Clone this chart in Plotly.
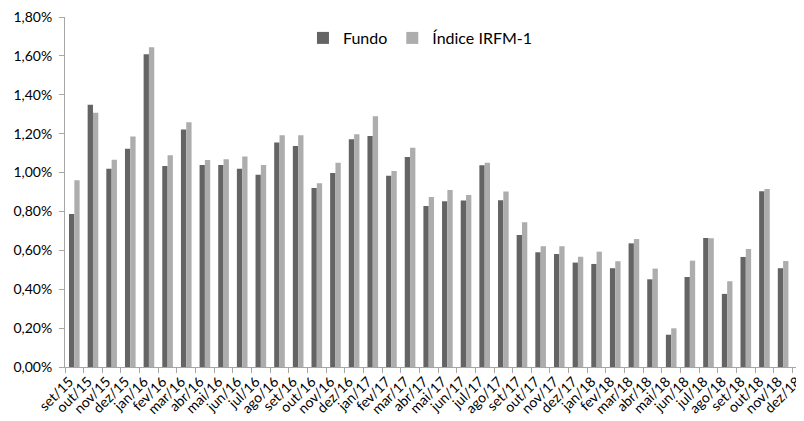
import plotly.graph_objects as go

months = ["set/15", "out/15", "nov/15", "dez/15",
          "jan/16", "fev/16", "mar/16", "abr/16", "mai/16", "jun/16",
          "jul/16", "ago/16", "set/16", "out/16", "nov/16", "dez/16",
          "jan/17", "fev/17", "mar/17", "abr/17", "mai/17", "jun/17",
          "jul/17", "ago/17", "set/17", "out/17", "nov/17", "dez/17",
          "jan/18", "fev/18", "mar/18", "abr/18", "mai/18", "jun/18",
          "jul/18", "ago/18", "set/18", "out/18", "nov/18", "dez/18"]

fundo = [0.787, 1.349, 1.020, 1.123,
         1.608, 1.034, 1.221, 1.039, 1.039, 1.019,
         0.989, 1.154, 1.137, 0.921, 0.998, 1.171,
         1.188, 0.984, 1.080, 0.828, 0.852, 0.856,
         1.037, 0.857, 0.679, 0.590, 0.581, 0.537,
         0.530, 0.508, 0.636, 0.451, 0.166, 0.463,
         0.664, 0.376, 0.566, 0.904, 0.508, 0.514]

irfm1 = [0.960, 1.307, 1.066, 1.185,
         1.644, 1.089, 1.259, 1.065, 1.068, 1.082,
         1.039, 1.192, 1.192, 0.945, 1.051, 1.197,
         1.290, 1.008, 1.127, 0.874, 0.910, 0.885,
         1.051, 0.903, 0.744, 0.621, 0.621, 0.567,
         0.593, 0.544, 0.658, 0.506, 0.199, 0.547,
         0.662, 0.441, 0.607, 0.916, 0.545, 0.559]

y_ticks = [0.0, 0.2, 0.4, 0.6, 0.8, 1.0, 1.2, 1.4, 1.6, 1.8]
y_tick_text = [f"{v:.2f}%".replace(".", ",") for v in y_ticks]

font = "Lato, 'Open Sans', sans-serif"

fig = go.Figure()
fig.add_trace(go.Bar(name="Fundo", x=months, y=fundo,
                     marker=dict(color="#646464", line=dict(width=0))))
fig.add_trace(go.Bar(name="Índice IRFM-1", x=months, y=irfm1,
                     marker=dict(color="#ADADAD", line=dict(width=0))))

# page body has an 8px margin, so the figure is sized/offset to compensate
fig.update_layout(
    width=796, height=413,
    margin=dict(l=57, r=0, t=9, b=54, autoexpand=False),
    paper_bgcolor="white", plot_bgcolor="white",
    barmode="group", bargap=0.43, bargroupgap=0,
    font=dict(family=font, size=14, color="#000000"),
    showlegend=True,
    legend=dict(orientation="h", x=0.322, y=0.94, xanchor="left", yanchor="middle",
                bgcolor="rgba(0,0,0,0)", font=dict(size=16),
                traceorder="normal"),
    xaxis=dict(type="category", range=[-0.5, 39.12], automargin=False,
               showline=True, linecolor="#A6A6A6", linewidth=1,
               ticks="outside", ticklen=5, tickcolor="#A6A6A6",
               tickson="boundaries", tickangle=-45, ticklabeloverflow="allow",
               ticklabelshift=-5,
               showgrid=False, zeroline=False,
               tickfont=dict(size=14)),
    yaxis=dict(range=[0, 1.8], tickvals=y_ticks, ticktext=y_tick_text,
               automargin=False, ticklabelstandoff=4, ticklabeloverflow="allow",
               showline=True, linecolor="#A6A6A6", linewidth=1,
               ticks="outside", ticklen=5, tickcolor="#A6A6A6",
               showgrid=False, zeroline=False,
               tickfont=dict(size=14)),
)

fig.write_html("out.html")
